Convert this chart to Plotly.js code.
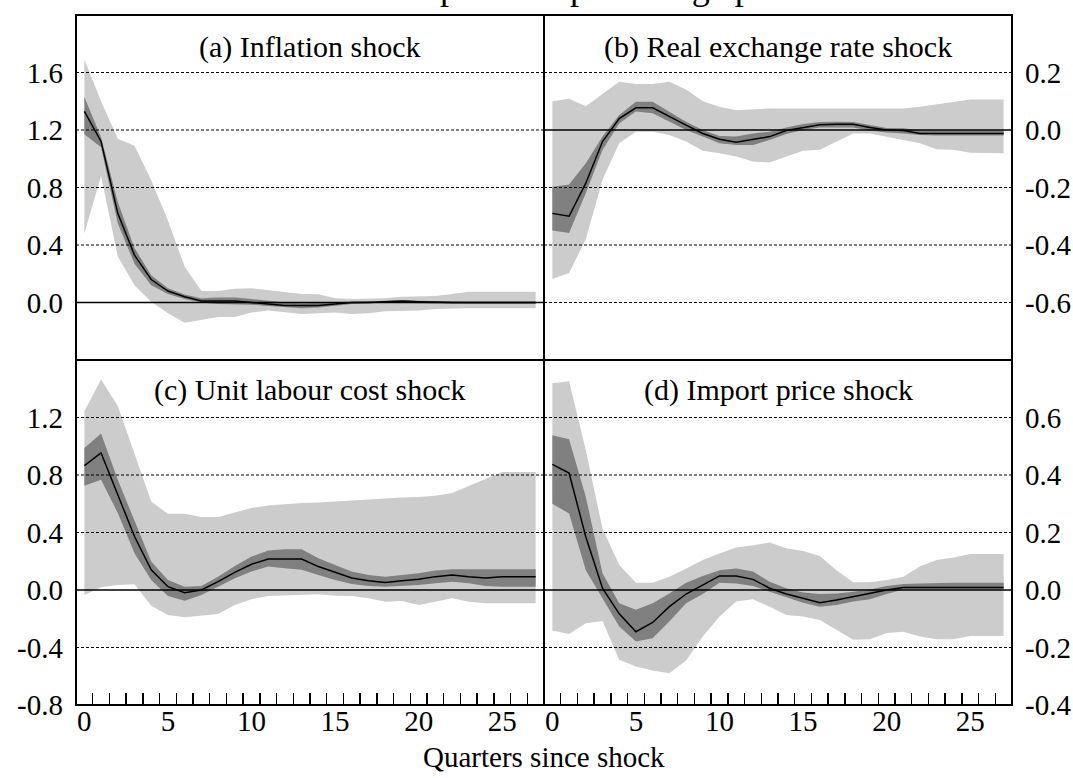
<!DOCTYPE html>
<html><head><meta charset="utf-8">
<script src="https://cdn.plot.ly/plotly-3.0.1.min.js"></script>
<style>html,body{margin:0;padding:0;background:#fff}#chart{width:1073px;height:778px}</style>
</head><body><div id="chart"></div>
<script>
const quarters = [0,1,2,3,4,5,6,7,8,9,10,11,12,13,14,15,16,17,18,19,20,21,22,23,24,25,26,27];

// (a) Inflation shock
const A_mid      = [1.33,1.12,0.62,0.33,0.16,0.08,0.04,0.01,0.01,0.01,0.0,-0.01,-0.02,-0.02,-0.02,-0.01,0.0,0.0,0.005,0.01,0.005,0.0,0,0,0,0,0,0];
const A_dark_hi  = [1.43,1.15,0.70,0.38,0.19,0.10,0.055,0.03,0.035,0.035,0.025,0.01,0.0,-0.005,-0.005,0.0,0.005,0.01,0.015,0.015,0.012,0.008,0.005,0.005,0.005,0.005,0.005,0.005];
const A_dark_lo  = [1.17,1.08,0.55,0.27,0.12,0.06,0.025,0.0,-0.01,-0.01,-0.015,-0.025,-0.035,-0.04,-0.035,-0.02,-0.01,-0.005,0,0,-0.005,-0.008,-0.008,-0.008,-0.008,-0.008,-0.008,-0.008];
const A_light_hi = [1.69,1.40,1.14,1.09,0.85,0.57,0.25,0.08,0.08,0.095,0.10,0.085,0.07,0.06,0.058,0.03,0.025,0.025,0.03,0.04,0.04,0.045,0.06,0.075,0.075,0.075,0.075,0.075];
const A_light_lo = [0.48,0.88,0.32,0.12,0.005,-0.075,-0.14,-0.12,-0.10,-0.10,-0.07,-0.055,-0.07,-0.08,-0.075,-0.07,-0.08,-0.075,-0.06,-0.06,-0.055,-0.045,-0.04,-0.04,-0.04,-0.04,-0.04,-0.04];

// (b) Real exchange rate shock
const B_mid      = [-0.29,-0.30,-0.185,-0.04,0.04,0.077,0.077,0.046,0.017,-0.012,-0.032,-0.043,-0.032,-0.023,-0.002,0.009,0.018,0.02,0.02,0.009,0.0,-0.002,-0.012,-0.012,-0.012,-0.012,-0.012,-0.012];
const B_dark_hi  = [-0.197,-0.19,-0.116,-0.023,0.052,0.098,0.098,0.064,0.029,0.0,-0.021,-0.023,-0.012,-0.006,0.009,0.021,0.028,0.029,0.028,0.017,0.007,0.006,-0.002,-0.002,-0.002,-0.002,-0.002,-0.002];
const B_dark_lo  = [-0.35,-0.358,-0.22,-0.07,0.023,0.064,0.058,0.029,0.0,-0.023,-0.046,-0.052,-0.052,-0.035,-0.014,0.0,0.009,0.009,0.009,-0.002,-0.009,-0.012,-0.017,-0.019,-0.019,-0.019,-0.019,-0.019];
const B_light_hi = [0.10,0.109,0.083,0.125,0.168,0.16,0.16,0.168,0.141,0.10,0.081,0.069,0.072,0.075,0.075,0.075,0.075,0.075,0.075,0.075,0.075,0.075,0.081,0.09,0.098,0.106,0.106,0.106];
const B_light_lo = [-0.518,-0.497,-0.38,-0.173,-0.046,-0.006,-0.006,-0.017,-0.04,-0.072,-0.081,-0.092,-0.11,-0.113,-0.092,-0.072,-0.069,-0.04,-0.012,-0.012,-0.023,-0.035,-0.046,-0.067,-0.069,-0.079,-0.081,-0.081];

// (c) Unit labour cost shock
const C_mid      = [0.865,0.953,0.663,0.372,0.14,0.023,-0.019,0.0,0.058,0.123,0.179,0.216,0.216,0.216,0.163,0.123,0.084,0.065,0.053,0.065,0.074,0.093,0.105,0.093,0.084,0.093,0.093,0.093];
const C_dark_hi  = [0.988,1.088,0.767,0.477,0.198,0.07,0.023,0.028,0.093,0.167,0.233,0.274,0.284,0.284,0.221,0.174,0.128,0.105,0.093,0.105,0.116,0.135,0.144,0.144,0.144,0.144,0.144,0.144];
const C_dark_lo  = [0.726,0.767,0.535,0.256,0.07,-0.042,-0.074,-0.035,0.023,0.081,0.128,0.163,0.151,0.14,0.105,0.07,0.042,0.028,0.023,0.028,0.035,0.047,0.058,0.047,0.028,0.023,0.023,0.023];
const C_light_hi = [1.244,1.465,1.28,0.953,0.616,0.53,0.53,0.507,0.507,0.54,0.57,0.588,0.598,0.605,0.609,0.616,0.628,0.635,0.642,0.644,0.647,0.656,0.674,0.721,0.772,0.821,0.821,0.821];
const C_light_lo = [-0.035,0.019,0.035,0.04,-0.109,-0.174,-0.19,-0.181,-0.167,-0.105,-0.065,-0.042,-0.037,-0.035,-0.03,-0.04,-0.042,-0.058,-0.081,-0.076,-0.105,-0.081,-0.058,-0.081,-0.093,-0.093,-0.093,-0.093];

// (d) Import price shock
const D_mid      = [0.437,0.407,0.185,0.006,-0.083,-0.145,-0.113,-0.058,-0.014,0.017,0.049,0.049,0.037,0.006,-0.014,-0.029,-0.044,-0.035,-0.023,-0.012,0.0,0.009,0.009,0.009,0.009,0.009,0.009,0.009];
const D_dark_hi  = [0.538,0.524,0.324,0.058,-0.046,-0.069,-0.046,-0.012,0.025,0.049,0.069,0.075,0.064,0.029,0.006,-0.009,-0.014,-0.012,-0.006,0.002,0.014,0.021,0.023,0.025,0.025,0.025,0.025,0.025];
const D_dark_lo  = [0.30,0.266,0.069,-0.029,-0.127,-0.179,-0.168,-0.11,-0.046,-0.014,0.025,0.023,0.014,-0.006,-0.025,-0.044,-0.058,-0.052,-0.04,-0.032,-0.014,0.002,0.002,0.002,0.002,0.002,0.002,0.002];
const D_light_hi = [0.719,0.726,0.486,0.214,0.087,0.025,0.025,0.046,0.075,0.104,0.127,0.148,0.156,0.165,0.145,0.136,0.118,0.069,0.027,0.027,0.035,0.046,0.083,0.104,0.113,0.125,0.125,0.125];
const D_light_lo = [-0.141,-0.153,-0.116,-0.108,-0.243,-0.266,-0.28,-0.29,-0.245,-0.162,-0.092,-0.04,-0.032,-0.058,-0.087,-0.092,-0.104,-0.139,-0.173,-0.171,-0.15,-0.145,-0.162,-0.171,-0.171,-0.16,-0.16,-0.16];

const panelTitles = ['(a) Inflation shock','(b) Real exchange rate shock','(c) Unit labour cost shock','(d) Import price shock'];
const xTickVals = [0,5,10,15,20,25];
const xTickText = ['0','5','10','15','20','25'];
const yTicksA = [1.6,1.2,0.8,0.4,0.0];
const yTicksB = [0.2,0.0,-0.2,-0.4,-0.6];
const yTicksC = [1.2,0.8,0.4,0.0,-0.4,-0.8];
const yTicksD = [0.6,0.4,0.2,0.0,-0.2,-0.4];
const xTitle = 'Quarters since shock';
const chartTitle = 'Inflation response in percentage points';

const FONT = "'Liberation Serif', 'Times New Roman', serif";
const LIGHT = '#cccccc', DARK = '#808080';

function fmt(v){ return (v<0?'-':'') + Math.abs(v).toFixed(1); }

const traces = [];
function addPanel(xa, ya, lo, hi, dlo, dhi, mid){
  const base = {x: quarters, xaxis: xa, yaxis: ya, mode: 'lines', hoverinfo: 'skip', showlegend: false};
  traces.push(Object.assign({}, base, {y: lo, line: {width: 0, color: LIGHT}}));
  traces.push(Object.assign({}, base, {y: hi, line: {width: 0, color: LIGHT}, fill: 'tonexty', fillcolor: LIGHT}));
  traces.push(Object.assign({}, base, {y: dlo, line: {width: 0, color: DARK}}));
  traces.push(Object.assign({}, base, {y: dhi, line: {width: 0, color: DARK}, fill: 'tonexty', fillcolor: DARK}));
  traces.push(Object.assign({}, base, {y: mid, line: {width: 1.5, color: '#000'}}));
}
addPanel('x','y',A_light_lo,A_light_hi,A_dark_lo,A_dark_hi,A_mid);
addPanel('x2','y2',B_light_lo,B_light_hi,B_dark_lo,B_dark_hi,B_mid);
addPanel('x3','y3',C_light_lo,C_light_hi,C_dark_lo,C_dark_hi,C_mid);
addPanel('x4','y4',D_light_lo,D_light_hi,D_dark_lo,D_dark_hi,D_mid);

const minorTicks = [];
for (let i = 0; i < quarters.length - 1; i++) minorTicks.push((quarters[i] + quarters[i+1]) / 2);

function xAxis(domain, anchor, bottom){
  const a = {domain, anchor, range: [-0.5, 27.5], showline: false, showgrid: false, zeroline: false, fixedrange: true};
  if (bottom) {
    Object.assign(a, {tickmode: 'array', tickvals: xTickVals, ticktext: xTickText, ticks: '',
      ticklabelstandoff: -4,
      tickfont: {family: FONT, size: 29, color: '#000'},
      minor: {tickmode: 'array', tickvals: minorTicks, ticks: 'inside', ticklen: 12, tickwidth: 1.5, tickcolor: '#000', showgrid: false}});
  } else {
    a.showticklabels = false; a.ticks = '';
  }
  return a;
}
function yAxis(domain, anchor, range, ticks, side){
  return {domain, anchor, range, side, showline: false, showgrid: false, zeroline: false, fixedrange: true,
    tickmode: 'array', tickvals: ticks, ticktext: ticks.map(fmt),
    ticks: '', ticklabelstandoff: side === 'left' ? 12 : 12, tickfont: {family: FONT, size: 29, color: '#000'}};
}

const shapes = [];
function gridFor(xa, ya, ticks){
  ticks.forEach(v => {
    shapes.push({type: 'line', xref: xa + ' domain', x0: 0, x1: 1, yref: ya, y0: v, y1: v, layer: 'above',
      line: v === 0 ? {color: '#000', width: 1.5} : {color: '#000', width: 1, dash: '3px,2px'}});
  });
  shapes.push({type: 'rect', xref: xa + ' domain', x0: 0, x1: 1, yref: ya + ' domain', y0: 0, y1: 1, layer: 'above',
    line: {color: '#000', width: 2}, fillcolor: 'rgba(0,0,0,0)'});
}
gridFor('x','y',yTicksA);
gridFor('x2','y2',yTicksB);
gridFor('x3','y3',yTicksC.filter(v => v > -0.8));
gridFor('x4','y4',yTicksD.filter(v => v > -0.4));

const annotations = [
  {text: panelTitles[0], xref: 'x domain', yref: 'y domain', x: 0.5, y: 0.907, yanchor: 'middle', showarrow: false, font: {family: FONT, size: 30, color: '#000'}},
  {text: panelTitles[1], xref: 'x2 domain', yref: 'y2 domain', x: 0.5, y: 0.907, yanchor: 'middle', showarrow: false, font: {family: FONT, size: 30, color: '#000'}},
  {text: panelTitles[2], xref: 'x3 domain', yref: 'y3 domain', x: 0.5, y: 0.914, yanchor: 'middle', showarrow: false, font: {family: FONT, size: 30, color: '#000'}},
  {text: panelTitles[3], xref: 'x4 domain', yref: 'y4 domain', x: 0.5, y: 0.914, yanchor: 'middle', showarrow: false, font: {family: FONT, size: 30, color: '#000'}},
  {text: xTitle, xref: 'paper', yref: 'paper', x: 0.5, y: -0.076, yanchor: 'middle', showarrow: false, font: {family: FONT, size: 29, color: '#000'}},
  {text: chartTitle, xref: 'paper', yref: 'paper', x: 0.5, y: 1.0, yanchor: 'bottom', yshift: 6, showarrow: false, font: {family: FONT, size: 36, color: '#000'}}
];

const layout = {
  width: 1073, height: 778, margin: {l: 76, r: 61, t: 15, b: 73},
  paper_bgcolor: '#fff', plot_bgcolor: '#fff', showlegend: false,
  xaxis: xAxis([0, 0.5], 'y', false),
  yaxis: yAxis([0.5, 1], 'x', [-0.4, 2.0], yTicksA, 'left'),
  xaxis2: xAxis([0.5, 1], 'y2', false),
  yaxis2: yAxis([0.5, 1], 'x2', [-0.8, 0.4], yTicksB, 'right'),
  xaxis3: xAxis([0, 0.5], 'y3', true),
  yaxis3: yAxis([0, 0.5], 'x3', [-0.8, 1.6], yTicksC, 'left'),
  xaxis4: xAxis([0.5, 1], 'y4', true),
  yaxis4: yAxis([0, 0.5], 'x4', [-0.4, 0.8], yTicksD, 'right'),
  shapes, annotations
};

Plotly.newPlot('chart', traces, layout, {displayModeBar: false, staticPlot: true});
</script>
</body></html>
